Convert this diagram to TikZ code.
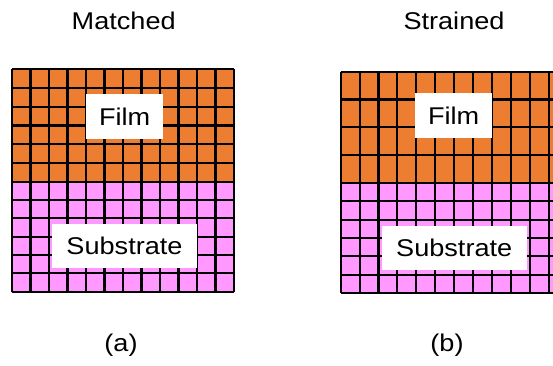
\documentclass[tikz,border=0pt]{standalone}
\usepackage{fontspec}
\setmainfont{Liberation Sans}[FakeStretch=1.12]
\definecolor{filmc}{RGB}{237,125,49}
\definecolor{subc}{RGB}{255,153,255}
\begin{document}
\begin{tikzpicture}[x=1pt,y=-1pt,
  gridline/.style={black,line width=2.1pt},
  lbl/.style={font=\fontsize{24.2}{28}\selectfont,inner sep=0pt},
  tag/.style={lbl,fill=white,minimum height=44.5pt}]
\useasboundingbox (0,0) rectangle (553,365);
\clip (0,0) rectangle (553,365);

% matched: film and substrate share the same lattice
\fill[filmc] (12,69.3) rectangle (234,181.7);
\fill[subc] (12,181.7) rectangle (234,291.7);
\foreach \i in {0,...,12}
  \draw[gridline] (12+\i*18.5,69.3) -- (12+\i*18.5,291.7);
\foreach \j in {0,...,6} {
  \draw[gridline] (12,69.3+\j*18.733) -- (234,69.3+\j*18.733);
  \draw[gridline] (12,181.7+\j*18.333) -- (234,181.7+\j*18.333);
}

% strained: taller film cells on a square-cell substrate
\fill[filmc] (340.7,71.7) rectangle (580,182.7);
\fill[subc] (340.7,182.7) rectangle (580,293.3);
\foreach \i in {0,...,12}
  \draw[gridline] (340.7+\i*18.9,71.7) -- (340.7+\i*18.9,293.3);
\foreach \j in {0,...,4}
  \draw[gridline] (340.7,71.7+\j*27.75) -- (580,71.7+\j*27.75);
\foreach \j in {0,...,6}
  \draw[gridline] (340.7,182.7+\j*18.433) -- (580,182.7+\j*18.433);

% layer labels
\node[tag,minimum width=77.3pt] (filmA) at (124.7,116.7) {Film};
\node[tag,minimum width=144.4pt] (subA) at (124.5,245.8) {Substrate};
\node[tag,minimum width=77.3pt] (filmB) at (453.7,115.3) {Film};
\node[tag,minimum width=145pt] (subB) at (454.2,247.8) {Substrate};

% titles and captions
\node[lbl,anchor=base] (titleA) at (123.7,29.3) {Matched};
\node[lbl,anchor=base] (titleB) at (454,29.5) {Strained};
\node[lbl,anchor=base] (capA) at (121,351.5) {(a)};
\node[lbl,anchor=base] (capB) at (447,351.5) {(b)};
\end{tikzpicture}
\end{document}
